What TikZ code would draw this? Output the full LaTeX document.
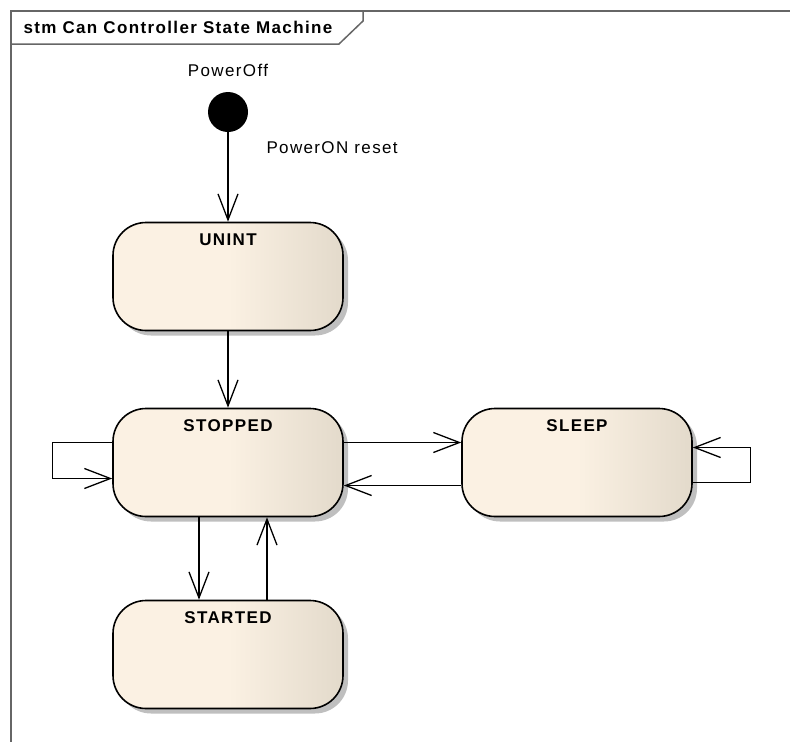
\documentclass[tikz,border=0pt]{standalone}
\usepackage{fontspec}
\setmainfont{Liberation Sans}[LetterSpace=8]
\usetikzlibrary{arrows.meta, positioning, shadows}

\definecolor{stateL}{HTML}{FBF1E3}
\definecolor{stateR}{HTML}{E3DACB}

\begin{document}
\begin{tikzpicture}[
    x=1pt, y=-1pt,
    every node/.style={font=\fontsize{17}{20}\selectfont},
    state/.style={draw, line width=1.6pt, rounded corners=33pt,
                  minimum width=230pt, inner sep=0pt,
                  text height=23pt, text depth=85pt,
                  font=\fontsize{17}{20}\selectfont\bfseries,
                  left color=stateL, right color=stateR, middle color=stateL,
                  drop shadow={shadow xshift=5pt, shadow yshift=-5pt,
                               opacity=1, fill=black!25}},
    tr/.style={-{Straight Barb[length=26pt, width=20pt]}, line width=1.3pt},
    frm/.style={draw=black!60, line width=1.5pt},
  ]
    \useasboundingbox (0,0) rectangle (790,742);

    % frame and title tab
    \draw[frm] (790,11) -- (11,11) -- (11,742);
    \draw[frm] (11,44) -- (339,44) -- (363,21) -- (363,11);
    \node[font=\fontsize{17}{20}\selectfont\bfseries, anchor=base west]
         (title) at (20,33) {stm Can Controller State Machine};

    % initial pseudo state
    \node[circle, fill=black, minimum size=40pt, inner sep=0pt] (init) at (228,112) {};
    \node[anchor=base] (initlbl) at (228,76) {PowerOff};

    % states
    \node[state] (uninit)  at (228,276.5) {UNINT};
    \node[state] (stopped) at (228,462.5) {STOPPED};
    \node[state] (sleep)   at (577,462.5) {SLEEP};
    \node[state] (started) at (228,654.5) {STARTED};

    % transitions
    \draw[tr] (init) -- (uninit);
    \node[anchor=base west] (resetlbl) at (263,153) {PowerON reset};
    \draw[tr] (uninit) -- (stopped);
    \draw[tr] ([yshift=20pt]stopped.west) -- ++(-60,0)
              |- ([yshift=-16pt]stopped.west);
    \draw[tr] ([yshift=20pt]stopped.east) -- ([yshift=20pt]sleep.west);
    \draw[tr] ([yshift=-23pt]sleep.west) -- ([yshift=-23pt]stopped.east);
    \draw[tr] ([yshift=-20pt]sleep.east) -- ++(58,0)
              |- ([yshift=15pt]sleep.east);
    \draw[tr] ([xshift=-29pt]stopped.south) -- ([xshift=-29pt]started.north);
    \draw[tr] ([xshift=39pt]started.north) -- ([xshift=39pt]stopped.south);
  \end{tikzpicture}
\end{document}
